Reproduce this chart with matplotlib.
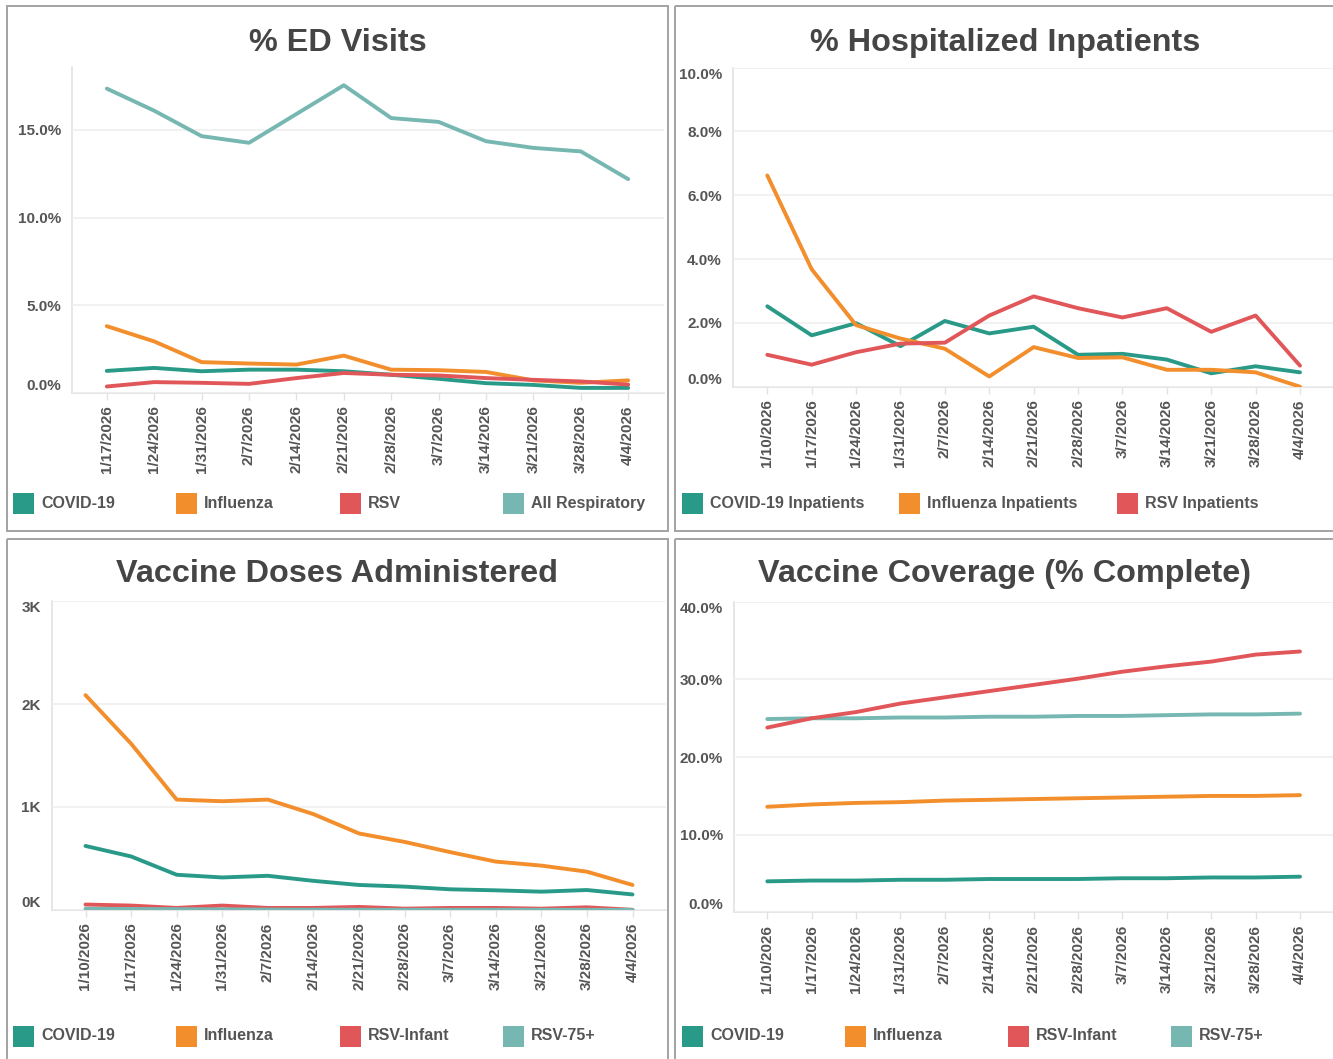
import matplotlib
matplotlib.use("Agg")
import matplotlib.pyplot as plt
from matplotlib.patches import Rectangle
from matplotlib.ticker import FixedLocator, FuncFormatter

plt.rcParams['font.family'] = ['Liberation Sans', 'DejaVu Sans']

# ---------------- data ----------------
ed_dates = ['1/17/2026', '1/24/2026', '1/31/2026', '2/7/2026', '2/14/2026', '2/21/2026',
            '2/28/2026', '3/7/2026', '3/14/2026', '3/21/2026', '3/28/2026', '4/4/2026']
ed_covid = [1.26, 1.43, 1.24, 1.33, 1.33, 1.24, 1.04, 0.81, 0.56, 0.46, 0.29, 0.29]
ed_flu = [3.81, 2.94, 1.76, 1.68, 1.62, 2.13, 1.33, 1.30, 1.20, 0.72, 0.58, 0.72]
ed_rsv = [0.37, 0.62, 0.58, 0.52, 0.85, 1.14, 1.04, 1.00, 0.85, 0.75, 0.66, 0.48]
ed_all = [17.35, 16.09, 14.64, 14.26, 15.90, 17.54, 15.67, 15.45, 14.35, 13.97, 13.77, 12.19]

dates = ['1/10/2026', '1/17/2026', '1/24/2026', '1/31/2026', '2/7/2026', '2/14/2026', '2/21/2026',
         '2/28/2026', '3/7/2026', '3/14/2026', '3/21/2026', '3/28/2026', '4/4/2026']
hosp_covid = [2.52, 1.61, 1.99, 1.27, 2.06, 1.67, 1.88, 1.00, 1.03, 0.85, 0.42, 0.64, 0.45]
hosp_flu = [6.62, 3.68, 1.93, 1.51, 1.19, 0.32, 1.24, 0.90, 0.92, 0.53, 0.53, 0.45, 0.0]
hosp_rsv = [1.00, 0.69, 1.08, 1.35, 1.38, 2.23, 2.83, 2.46, 2.17, 2.46, 1.72, 2.23, 0.66]

dose_covid = [622, 520, 342, 316, 332, 283, 243, 227, 201, 191, 178, 194, 151]
dose_flu = [2086, 1615, 1072, 1056, 1072, 931, 743, 661, 562, 470, 431, 372, 243]
dose_rsv_inf = [53, 43, 20, 43, 20, 20, 30, 13, 20, 20, 13, 26, 2]
dose_rsv_75 = [12, 10, 8, 6, 4, 3, 2, 2, 2, 2, 2, 2, 1]

cov_covid = [4.0, 4.1, 4.1, 4.2, 4.2, 4.3, 4.3, 4.3, 4.4, 4.4, 4.5, 4.5, 4.6]
cov_flu = [13.6, 13.9, 14.1, 14.2, 14.4, 14.5, 14.6, 14.7, 14.8, 14.9, 15.0, 15.0, 15.1]
cov_rsv_inf = [23.8, 25.0, 25.8, 26.9, 27.7, 28.5, 29.3, 30.1, 31.0, 31.7, 32.3, 33.2, 33.6]
cov_rsv_75 = [24.9, 25.0, 25.0, 25.1, 25.1, 25.2, 25.2, 25.3, 25.3, 25.4, 25.5, 25.5, 25.6]

ed_labels = ['COVID-19', 'Influenza', 'RSV', 'All Respiratory']
hosp_labels = ['COVID-19 Inpatients', 'Influenza Inpatients', 'RSV Inpatients']
vax_labels = ['COVID-19', 'Influenza', 'RSV-Infant', 'RSV-75+']

# ---------------- style ----------------
C_COVID = '#2a9a88'
C_FLU = '#f28e2b'
C_RSV = '#e15759'
C_ALL = '#76b7b2'
TXT = '#555555'
TITLE = '#454545'
GRID = '#efefef'
AXL = '#e2e2e2'
BORDER = '#a3a3a3'
LW = 2.8

W, H = 1333, 1059
fig = plt.figure(figsize=(W / 100, H / 100), dpi=100)
fig.patch.set_facecolor('white')

bg = fig.add_axes([0, 0, 1, 1])
bg.set_xlim(0, W)
bg.set_ylim(H, 0)
bg.axis('off')
bg.set_zorder(0)

# panel borders
for (x0, y0, x1, y1) in [(7, 6, 668, 531), (675, 6, 1345, 531),
                         (7, 539, 668, 1070), (675, 539, 1345, 1070)]:
    bg.add_patch(Rectangle((x0, y0), x1 - x0, y1 - y0, fill=False,
                           edgecolor=BORDER, linewidth=1.4))


def make_ax(l, t, r, b):
    ax = fig.add_axes([l / W, 1 - b / H, (r - l) / W, (b - t) / H])
    ax.set_facecolor('none')
    ax.set_zorder(2)
    return ax


def style_ax(ax, l, r, x0px, x1px, labels, ymax, yticks, fmt, top_is_tick):
    n = len(labels)
    unit = (x1px - x0px) / (n - 1)
    ax.set_xlim(-(x0px - l) / unit, (n - 1) + (r - x1px) / unit)
    ax.set_ylim(0, ymax)
    ax.set_xticks(range(n))
    ax.set_xticklabels(labels, rotation=90, fontsize=11, fontweight='bold', color=TXT)
    ax.yaxis.set_major_locator(FixedLocator(yticks))
    ax.yaxis.set_major_formatter(FuncFormatter(fmt))
    ax.tick_params(axis='x', length=5, width=1, color=AXL, pad=4)
    ax.tick_params(axis='y', length=0, pad=8, labelsize=11, labelcolor=TXT)
    for lab in ax.get_yticklabels():
        lab.set_fontweight('bold')
    ax.grid(axis='y', color=GRID, linewidth=1.2)
    ax.set_axisbelow(True)
    for s in ['top', 'right']:
        ax.spines[s].set_visible(False)
    for s in ['left', 'bottom']:
        ax.spines[s].set_color(AXL)
        ax.spines[s].set_linewidth(1.2)
        ax.spines[s].set_zorder(0.5)
    fig.canvas.draw()
    labs = ax.get_yticklabels()
    labs[0].set_verticalalignment('bottom')
    if top_is_tick:
        labs[-1].set_verticalalignment('top')
        labs[-1].set_y(labs[-1].get_position()[1])


def legend(items, colors, xs, yc):
    for lab, col, x in zip(items, colors, xs):
        bg.add_patch(Rectangle((x, yc - 10.5), 21, 21, facecolor=col, edgecolor='none'))
        bg.text(x + 28, yc, lab, fontsize=11.5, fontweight='bold', color=TXT,
                ha='left', va='center')


pct1 = lambda v, p: f'{v:.1f}%'
kfmt = lambda v, p: f'{v / 1000:.0f}K'

kw = dict(lw=LW, solid_capstyle='round', solid_joinstyle='round', zorder=3)

# ---------------- panel 1: % ED Visits ----------------
ax1 = make_ax(72, 67, 664, 393)
x = range(len(ed_dates))
ax1.plot(x, ed_covid, color=C_COVID, **kw)
ax1.plot(x, ed_flu, color=C_FLU, **kw)
ax1.plot(x, ed_rsv, color=C_RSV, **kw)
ax1.plot(x, ed_all, color=C_ALL, **kw)
style_ax(ax1, 72, 664, 106.8, 628.2, ed_dates, 18.58, [0, 5, 10, 15], pct1, False)
bg.text(337.5, 51, '% ED Visits', fontsize=23.3, fontweight='bold', color=TITLE,
        ha='center', va='baseline')
legend(ed_labels, [C_COVID, C_FLU, C_RSV, C_ALL], [13, 176, 340, 503], 503.5)

# ---------------- panel 2: % Hospitalized Inpatients ----------------
ax2 = make_ax(733, 67.6, 1334, 386.7)
x = range(len(dates))
ax2.plot(x, hosp_covid, color=C_COVID, **kw)
ax2.plot(x, hosp_flu, color=C_FLU, **kw)
ax2.plot(x, hosp_rsv, color=C_RSV, **kw)
style_ax(ax2, 733, 1334, 767.3, 1300, dates, 10, [0, 2, 4, 6, 8, 10], pct1, True)
bg.text(1005, 51, '% Hospitalized Inpatients', fontsize=23.3, fontweight='bold',
        color=TITLE, ha='center', va='baseline')
legend(hosp_labels, [C_COVID, C_FLU, C_RSV], [682, 899, 1117], 503.5)

# ---------------- panel 3: Vaccine Doses Administered ----------------
ax3 = make_ax(52, 601, 666, 910)
ax3.plot(x, dose_covid, color=C_COVID, **kw)
ax3.plot(x, dose_flu, color=C_FLU, **kw)
ax3.plot(x, dose_rsv_inf, color=C_RSV, **kw)
ax3.plot(x, dose_rsv_75, color=C_ALL, **kw)
style_ax(ax3, 52, 666, 85.5, 632.5, dates, 3000, [0, 1000, 2000, 3000], kfmt, True)
bg.text(337.5, 582, 'Vaccine Doses Administered', fontsize=23.3, fontweight='bold',
        color=TITLE, ha='center', va='baseline')
legend(vax_labels, [C_COVID, C_FLU, C_RSV, C_ALL], [13, 176, 340, 503], 1036)

# ---------------- panel 4: Vaccine Coverage ----------------
ax4 = make_ax(734, 601.8, 1334, 912.4)
ax4.plot(x, cov_covid, color=C_COVID, **kw)
ax4.plot(x, cov_flu, color=C_FLU, **kw)
ax4.plot(x, cov_rsv_75, color=C_ALL, **kw)
ax4.plot(x, cov_rsv_inf, color=C_RSV, **kw)
style_ax(ax4, 734, 1334, 767.3, 1300, dates, 40, [0, 10, 20, 30, 40], pct1, True)
bg.text(1005, 582, 'Vaccine Coverage (% Complete)', fontsize=23.3, fontweight='bold',
        color=TITLE, ha='center', va='baseline')
legend(vax_labels, [C_COVID, C_FLU, C_RSV, C_ALL], [682, 845, 1008, 1171], 1036)

fig.savefig('out.png', dpi=100, facecolor='white')
